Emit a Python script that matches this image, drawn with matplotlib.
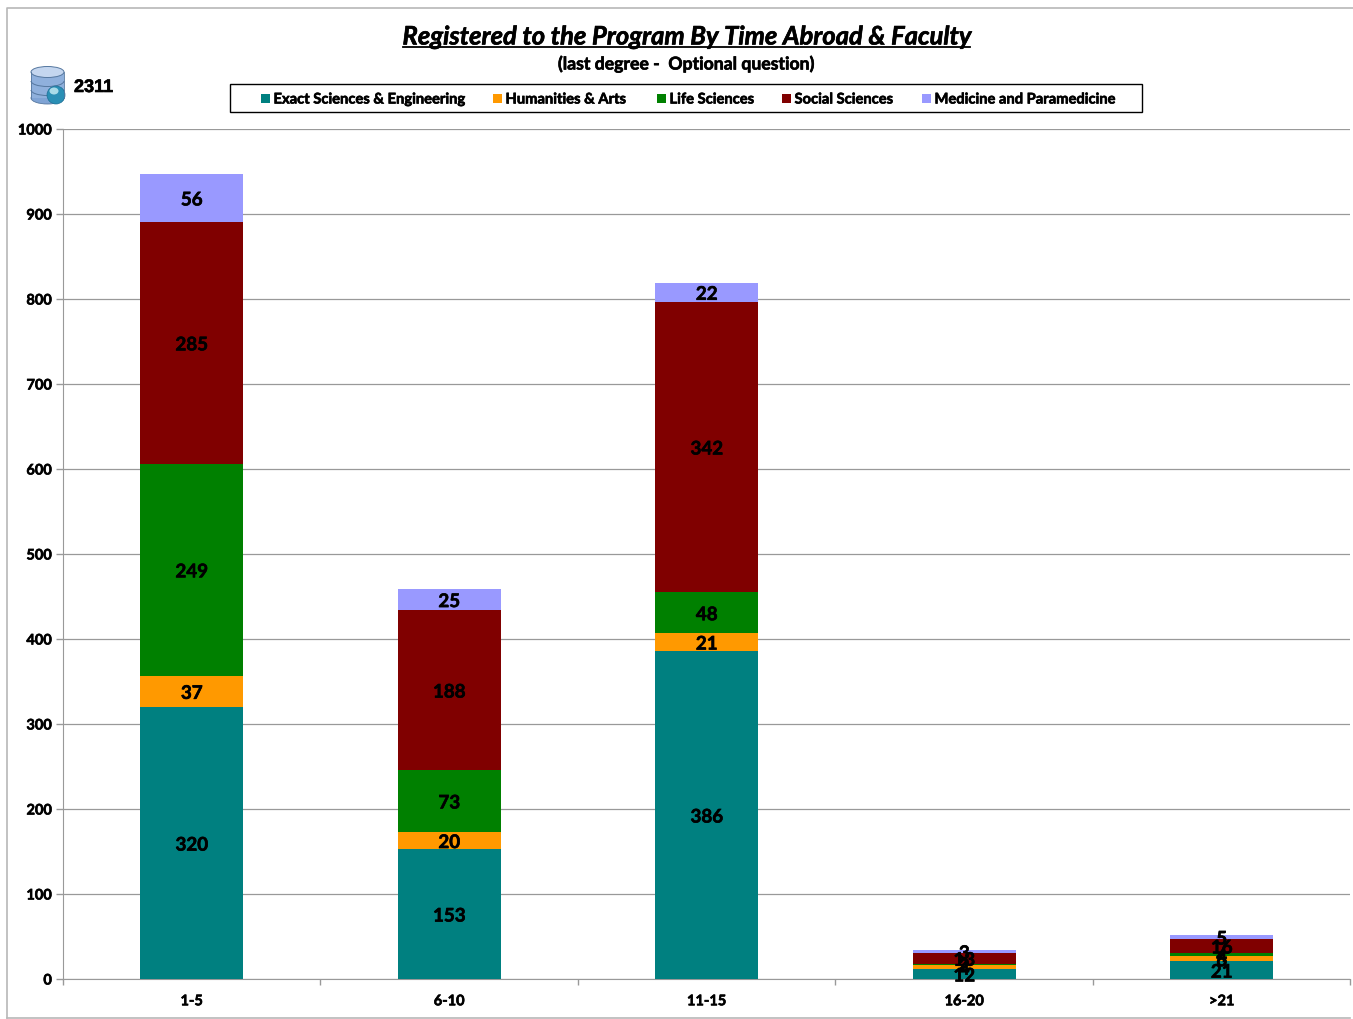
import matplotlib
matplotlib.use("Agg")
import matplotlib.pyplot as plt
import matplotlib.patheffects as pe
from matplotlib.patches import Arc, Ellipse, Rectangle

W, H = 1353, 1019

categories = ["1-5", "6-10", "11-15", "16-20", ">21"]
exact = [320, 153, 386, 12, 21]
humanities = [37, 20, 21, 4, 6]
life = [249, 73, 48, 2, 4]
social = [285, 188, 342, 13, 16]
medicine = [56, 25, 22, 3, 5]

series_names = ["Exact Sciences & Engineering", "Humanities & Arts", "Life Sciences",
                "Social Sciences", "Medicine and Paramedicine"]
series = [exact, humanities, life, social, medicine]
colors = ["#008080", "#FF9900", "#008000", "#800000", "#9999FF"]
yticks = [0, 100, 200, 300, 400, 500, 600, 700, 800, 900, 1000]

plt.rcParams["font.family"] = ["Lato", "DejaVu Sans"]
plt.rcParams["font.weight"] = "bold"

# Lato bold comes out lighter than the original, thicken it a little
thick = [pe.withStroke(linewidth=0.45, foreground="black")]

fig = plt.figure(figsize=(W / 100, H / 100), dpi=100)


def px_box(x0, y0, x1, y1):
    # pixel box (top-left origin) -> figure fraction rect
    return [x0 / W, 1 - y1 / H, (x1 - x0) / W, (y1 - y0) / H]


# outer frame
bg = fig.add_axes([0, 0, 1, 1])
bg.set_xlim(0, W)
bg.set_ylim(H, 0)
bg.axis("off")
bg.plot([W, 7, 7], [8, 8, 1018], color="#b8b8b8", lw=1.2)
bg.plot([7, 1350], [1018, 1018], color="#b8b8b8", lw=1.2)

ax = fig.add_axes(px_box(63, 129, 1350.5, 979))
x = range(len(categories))
bottom = [0] * len(categories)
for name, vals, col in zip(series_names, series, colors):
    ax.bar(x, vals, width=0.4, bottom=bottom, color=col, zorder=3, label=name)
    for i, v in enumerate(vals):
        ax.annotate(str(v), (i, bottom[i] + v / 2), xytext=(0, -1.5), textcoords="offset points",
                    ha="center", va="center", fontsize=13.5, color="black", zorder=4,
                    path_effects=thick)
    bottom = [b + v for b, v in zip(bottom, vals)]

ax.set_xlim(-0.5, len(categories) - 0.5)
ax.set_ylim(0, 1000)
ax.set_yticks(yticks)
ax.set_xticks(list(x))
ax.set_xticklabels(categories)
ax.set_xticks([i - 0.5 for i in range(len(categories) + 1)], minor=True)
ax.tick_params(axis="x", which="major", length=0, pad=11, labelsize=10.5)
ax.tick_params(axis="x", which="minor", length=4, color="#999999", width=1)
ax.tick_params(axis="y", length=5, color="#999999", width=1, pad=3, labelsize=10.5)
for lab in ax.get_xticklabels() + ax.get_yticklabels():
    lab.set_path_effects(thick)
ax.grid(axis="y", color="#999999", lw=0.9, zorder=0)
ax.set_axisbelow(True)
ax.spines["top"].set_visible(False)
ax.spines["right"].set_visible(False)
for s in ["left", "bottom"]:
    ax.spines[s].set_color("#999999")

# titles
bg.text(686.5, 36.5, "Registered to the Program By Time Abroad & Faculty", ha="center", va="center",
        fontsize=18.4, style="italic", fontweight="bold", path_effects=thick)
bg.plot([403, 970], [47, 47], color="black", lw=1.3)
bg.text(686.5, 63.5, "(last degree -  Optional question)", ha="center", va="center", fontsize=12.7,
        path_effects=thick)

# legend box
bg.add_patch(Rectangle((230, 84), 912, 28, fc="white", ec="black", lw=1))
leg_x = [261, 493, 657, 782, 922]
for lx, name, col in zip(leg_x, series_names, colors):
    bg.add_patch(Rectangle((lx, 94), 9, 9, fc=col, ec="none"))
    bg.text(lx + 12.5, 99.5, name, ha="left", va="center", fontsize=10.6, path_effects=thick)

# database icon
bg.add_patch(Ellipse((47.5, 98), 33, 12, fc="#7fa3d4", ec="#55779f", lw=0.6))
bg.add_patch(Rectangle((31, 72), 33, 26, fc="#8fb0dc", ec="none"))
bg.plot([31, 31], [72, 98], color="#55779f", lw=0.6)
bg.plot([64, 64], [72, 98], color="#55779f", lw=0.6)
for cy in [81, 90]:
    bg.add_patch(Arc((47.5, cy), 33, 11, theta1=0, theta2=180, ec="#55779f", lw=0.7))
bg.add_patch(Ellipse((47.5, 72), 33, 11, fc="#c4d6ef", ec="#55779f", lw=0.7))
bg.add_patch(Ellipse((56, 95), 18, 18, fc="#2a8fb5", ec="#1d6f95", lw=0.5))
bg.add_patch(Ellipse((54, 91), 9, 7, fc="#a9dbe8", ec="none"))
bg.text(74, 87.5, "2311", ha="left", va="center", fontsize=13,
        family="Liberation Sans", fontweight="bold", path_effects=thick)

fig.savefig("out.png", dpi=100)
